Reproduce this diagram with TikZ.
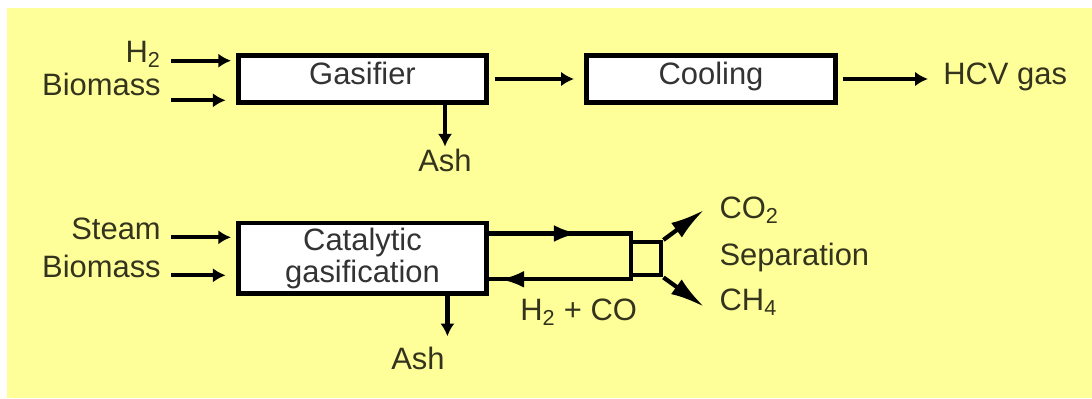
\documentclass[tikz,border=0pt]{standalone}
\usepackage{fontspec}
\setmainfont{Liberation Sans}
\usepackage{xcolor}
\usepackage{tikz}
\usetikzlibrary{shapes,arrows.meta,positioning,decorations.markings}

\begin{document}
\begin{tikzpicture}[
    font=\fontsize{22}{22.8}\selectfont,
    unitbox/.style={draw, line width=3.2pt, fill=white, text opacity=0.8},
    flow/.style={line width=3pt, -{Latex[length=0.32cm,width=0.36cm]}},
    sepflow/.style={line width=3pt, -{Latex[length=0.85cm,width=0.45cm]}},
    lbl/.style={inner sep=0pt, text opacity=0.8},
  ]
    % Define colors
    \definecolor{panelyellow}{RGB}{255,255,153}

    % Panel and picture size
    \useasboundingbox (0,0) rectangle (27.3,9.95);
    \fill[panelyellow] (0.175,0) rectangle (27.3,9.75);

    % Process units
    \node[unitbox, minimum width=6.21cm, minimum height=1.137cm, text height=0.6cm, text depth=0.344cm] (gasifier) at (9.0625,7.975) {Gasifier};
    \node[unitbox, minimum width=6.237cm, minimum height=1.137cm, text height=0.6cm, text depth=0.344cm] (cooling) at (17.775,7.975) {Cooling};
    \node[unitbox, minimum width=6.21cm, minimum height=1.637cm, align=center] (catalytic) at (9.0625,3.4925) {Catalytic\\gasification};
    \node[draw, line width=3pt, minimum width=0.75cm, minimum height=0.8325cm] (splitter) at (16.1575,3.4838) {};

    % Feed labels
    \node[lbl, anchor=base east] (h2) at (4.025,8.3825) {H\textsubscript{2}};
    \node[lbl, anchor=base east] (biomass1) at (4.025,7.5575) {Biomass};
    \node[lbl, anchor=base east] (steam) at (4.025,3.9675) {Steam};
    \node[lbl, anchor=base east] (biomass2) at (4.025,3.0075) {Biomass};

    % Product labels
    \node[lbl, anchor=base west] (hcv) at (23.575,7.8425) {HCV gas};
    \node[lbl, anchor=base] (ash1) at (11.125,5.6575) {Ash};
    \node[lbl, anchor=base] (ash2) at (10.45,0.7075) {Ash};
    \node[lbl, anchor=base west] (syngas) at (13.0,1.95) {H\textsubscript{2} + CO};
    \node[lbl, anchor=base west] (co2) at (17.9825,4.4925) {CO\textsubscript{2}};
    \node[lbl, anchor=base west] (separation) at (17.9825,3.325) {Separation};
    \node[lbl, anchor=base west] (ch4) at (17.9825,2.1825) {CH\textsubscript{4}};

    % Arrow tails and tips
    \coordinate (h2tail) at (4.275,8.4325);
    \coordinate (bio1tail) at (4.275,7.4425);
    \coordinate (steamtail) at (4.275,4.0175);
    \coordinate (bio2tail) at (4.275,3.0675);
    \coordinate (ashdrop) at (11.185,1.5425);
    \coordinate (loopne) at (15.7825,4.1125);
    \coordinate (loopse) at (15.7825,2.9675);
    \coordinate (co2tip) at (17.6,4.7);
    \coordinate (ch4tip) at (17.6,2.2825);

    % Feeds
    \draw[flow, shorten >=0.125cm] (h2tail) -- (h2tail -| gasifier.west);
    \draw[flow, shorten >=0.26cm] (bio1tail) -- (bio1tail -| gasifier.west);
    \draw[flow, shorten >=0.125cm] (steamtail) -- (steamtail -| catalytic.west);
    \draw[flow, shorten >=0.26cm] (bio2tail) -- (bio2tail -| catalytic.west);

    % Upper route
    \draw[flow, shorten <=0.15cm, shorten >=0.25cm] (gasifier.east) -- (cooling.west);
    \draw[flow, shorten <=0.125cm, shorten >=0.375cm] (cooling.east) -- (cooling.east -| hcv.west);
    \draw[flow, shorten >=0.06cm] (ash1.north |- gasifier.south) -- (ash1.north);

    % Lower route with gas loop
    \draw[flow] (ashdrop |- catalytic.south) -- (ashdrop);
    \draw[line width=3pt, postaction={decorate}, decoration={markings,
        mark=at position 2.225cm with {\arrow{Latex[length=0.6cm,width=0.42cm]}},
        mark=at position 7.985cm with {\arrow{Latex[length=0.6cm,width=0.42cm]}}}]
        (loopne -| catalytic.east) -- (loopne) -- (loopse) -- (loopse -| catalytic.east);
    \draw[sepflow] (splitter.north east) -- (co2tip);
    \draw[sepflow] (splitter.south east) -- (ch4tip);
\end{tikzpicture}
\end{document}
